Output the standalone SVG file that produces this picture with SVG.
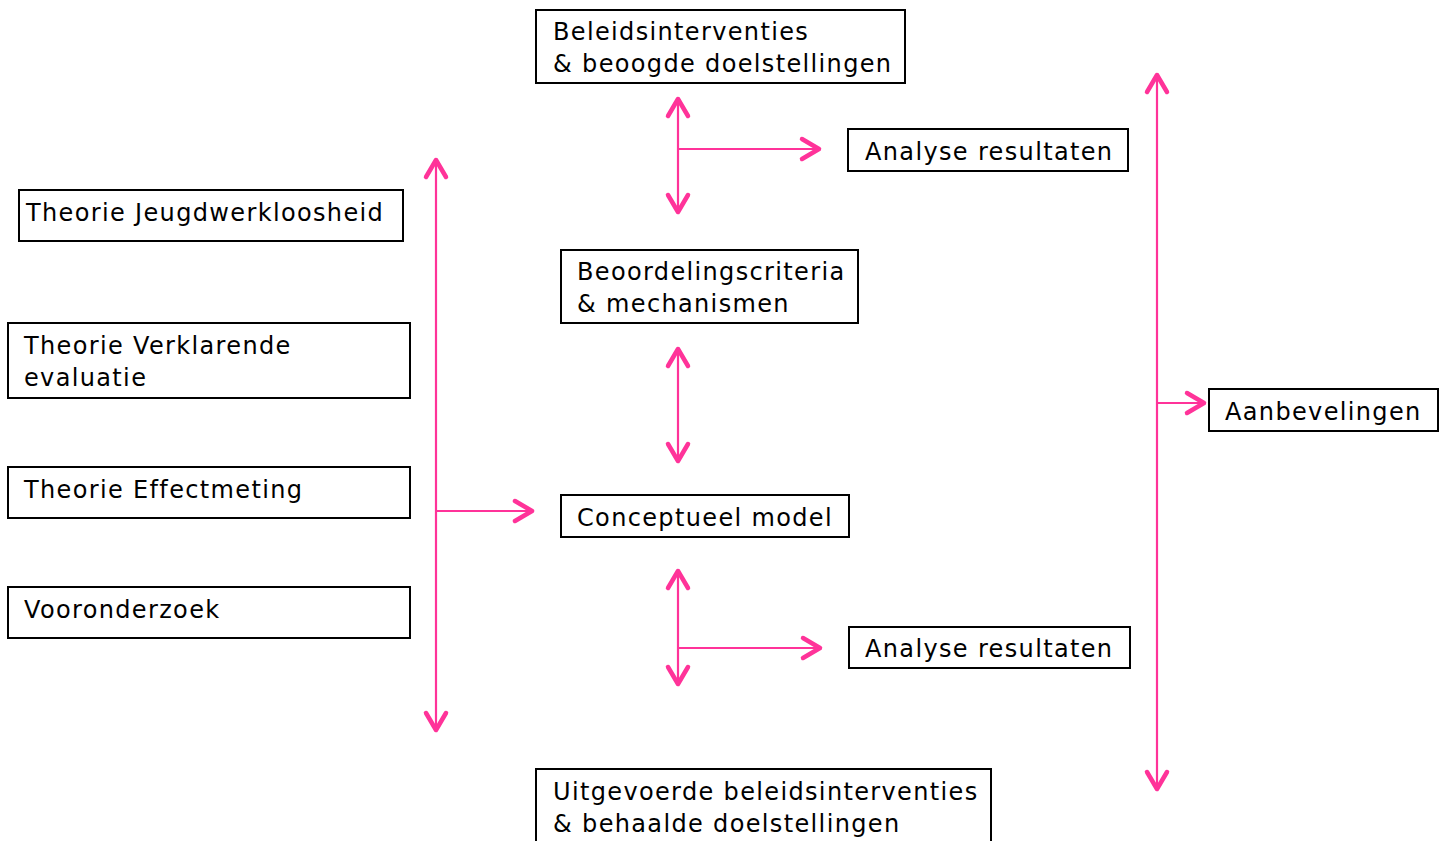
<svg xmlns="http://www.w3.org/2000/svg" width="1443" height="841" viewBox="0 0 1443 841">
<style>
.box{fill:#fff;stroke:#000;stroke-width:2}
.t{font-family:"DejaVu Sans","Liberation Sans",sans-serif;font-size:24px;letter-spacing:1.35px;fill:#000}
.c{fill:none;stroke:#ff3399;stroke-width:2.2}
</style>
<defs>
<marker id="ah" markerUnits="userSpaceOnUse" markerWidth="40" markerHeight="40" viewBox="-20 -20 40 40" refX="0" refY="0" orient="auto-start-reverse" overflow="visible">
<path d="M-17,-10 L0,0 L-17,10" fill="none" stroke="#ff3399" stroke-width="4.5" stroke-linecap="round" stroke-linejoin="round"/>
</marker>
</defs>
<rect width="1443" height="841" fill="#fff"/>
<g id="connectors">
<path class="c" d="M436,160 L436,730" marker-start="url(#ah)" marker-end="url(#ah)"/>
<path class="c" d="M436,511 L532,511" marker-end="url(#ah)"/>
<path class="c" d="M678,99 L678,212" marker-start="url(#ah)" marker-end="url(#ah)"/>
<path class="c" d="M678,149 L819,149" marker-end="url(#ah)"/>
<path class="c" d="M678,349 L678,461" marker-start="url(#ah)" marker-end="url(#ah)"/>
<path class="c" d="M678,571 L678,684" marker-start="url(#ah)" marker-end="url(#ah)"/>
<path class="c" d="M678,648 L820,648" marker-end="url(#ah)"/>
<path class="c" d="M1157,75 L1157,789" marker-start="url(#ah)" marker-end="url(#ah)"/>
<path class="c" d="M1157,403 L1204,403" marker-end="url(#ah)"/>
</g>
<g id="n-beleid">
<rect class="box" x="536" y="10" width="369" height="73"/>
<text class="t" x="553" y="40">Beleidsinterventies</text>
<text class="t" x="553" y="72">&amp; beoogde doelstellingen</text>
</g>
<g id="n-analyse1">
<rect class="box" x="848" y="129" width="280" height="42"/>
<text class="t" x="865" y="160">Analyse resultaten</text>
</g>
<g id="n-jeugd">
<rect class="box" x="19" y="190" width="384" height="51"/>
<text class="t" x="26" y="221">Theorie Jeugdwerkloosheid</text>
</g>
<g id="n-verklarende">
<rect class="box" x="8" y="323" width="402" height="75"/>
<text class="t" x="24" y="354">Theorie Verklarende</text>
<text class="t" x="24" y="386">evaluatie</text>
</g>
<g id="n-effect">
<rect class="box" x="8" y="467" width="402" height="51"/>
<text class="t" x="24" y="498">Theorie Effectmeting</text>
</g>
<g id="n-voor">
<rect class="box" x="8" y="587" width="402" height="51"/>
<text class="t" x="24" y="618">Vooronderzoek</text>
</g>
<g id="n-beoordeling">
<rect class="box" x="561" y="250" width="297" height="73"/>
<text class="t" x="577" y="280">Beoordelingscriteria</text>
<text class="t" x="577" y="312">&amp; mechanismen</text>
</g>
<g id="n-concept">
<rect class="box" x="561" y="495" width="288" height="42"/>
<text class="t" x="577" y="526">Conceptueel model</text>
</g>
<g id="n-analyse2">
<rect class="box" x="849" y="627" width="281" height="41"/>
<text class="t" x="865" y="657">Analyse resultaten</text>
</g>
<g id="n-aanbevelingen">
<rect class="box" x="1209" y="389" width="229" height="42"/>
<text class="t" x="1225" y="420">Aanbevelingen</text>
</g>
<g id="n-uitgevoerd">
<rect class="box" x="536" y="769" width="455" height="90"/>
<text class="t" x="553" y="800">Uitgevoerde beleidsinterventies</text>
<text class="t" x="553" y="832">&amp; behaalde doelstellingen</text>
</g>
</svg>
